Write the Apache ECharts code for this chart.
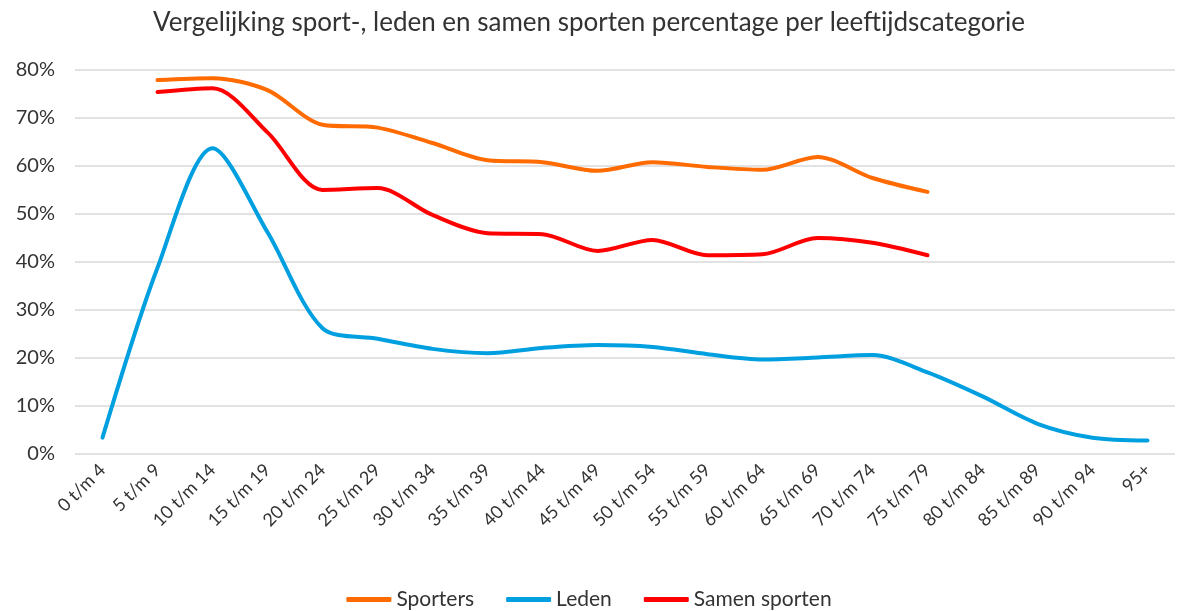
<!DOCTYPE html>
<html>
<head>
<meta charset="utf-8">
<script src="https://cdn.jsdelivr.net/npm/echarts@6/dist/echarts.min.js"></script>
<style>
  html, body { margin: 0; padding: 0; background: #fff; }
  #chart { width: 1178px; height: 611px; }
</style>
</head>
<body>
<div id="chart"></div>
<script>
// Data
const categories = ['0 t/m 4', '5 t/m 9', '10 t/m 14', '15 t/m 19', '20 t/m 24', '25 t/m 29',
  '30 t/m 34', '35 t/m 39', '40 t/m 44', '45 t/m 49', '50 t/m 54', '55 t/m 59', '60 t/m 64',
  '65 t/m 69', '70 t/m 74', '75 t/m 79', '80 t/m 84', '85 t/m 89', '90 t/m 94', '95+']

const sporters = [null, 77.9, 78.3, 75.8, 68.6, 68.0, 64.8, 61.2, 60.8, 59.0, 60.8, 59.8, 59.2,
  61.9, 57.5, 54.6, null, null, null, null]

const leden = [3.4, 38.8, 63.7, 46.2, 26.2, 24.0, 21.9, 21.0, 22.1, 22.7, 22.3, 20.8, 19.7,
  20.1, 20.6, 17.0, 12.0, 6.3, 3.4, 2.8]

const samenSporten = [null, 75.4, 76.2, 67.0, 55.0, 55.4, 49.8, 46.0, 45.8, 42.3, 44.6, 41.4, 41.6,
  45.0, 44.0, 41.4, null, null, null, null]

const yTicks = [0, 10, 20, 30, 40, 50, 60, 70, 80]

const fontFamily = 'Lato, "Open Sans", sans-serif'

const chart = echarts.init(document.getElementById('chart'))

const makeSeries = (name, data, color) => ({
  name,
  type: 'line',
  data,
  smooth: 0.3,
  showSymbol: false,
  connectNulls: false,
  lineStyle: { width: 4, color, cap: 'round' },
  itemStyle: { color }
})

chart.setOption({
  animation: false,
  title: {
    text: 'Vergelijking sport-, leden en samen sporten percentage per leeftijdscategorie',
    left: 'center',
    top: 5,
    textStyle: { fontFamily, fontSize: 26, fontWeight: 'normal', color: '#333' }
  },
  legend: {
    top: 584,
    left: 'center',
    itemWidth: 45,
    itemHeight: 5,
    itemGap: 32,
    icon: 'roundRect',
    textStyle: { fontFamily, fontSize: 21, color: '#333' },
    data: ['Sporters', 'Leden', 'Samen sporten']
  },
  grid: {
    left: 75,
    right: 3,
    top: 70,
    bottom: 157,
    containLabel: false
  },
  xAxis: {
    type: 'category',
    data: categories,
    boundaryGap: true,
    axisLine: { show: false },
    axisTick: { show: false },
    axisLabel: {
      rotate: 45,
      interval: 0,
      margin: 13,
      fontFamily,
      fontSize: 18,
      color: '#333'
    }
  },
  yAxis: {
    type: 'value',
    min: yTicks[0],
    max: yTicks[yTicks.length - 1],
    interval: 10,
    axisLine: { show: false },
    axisTick: { show: false },
    axisLabel: {
      formatter: (v) => v + '%',
      margin: 20,
      fontFamily,
      fontSize: 20,
      color: '#333'
    },
    splitLine: { lineStyle: { color: '#d9d9d9', width: 1.5 } }
  },
  series: [
    makeSeries('Sporters', sporters, '#ff6b00'),
    makeSeries('Leden', leden, '#009fe0'),
    makeSeries('Samen sporten', samenSporten, '#ff0000')
  ]
})
</script>
</body>
</html>
